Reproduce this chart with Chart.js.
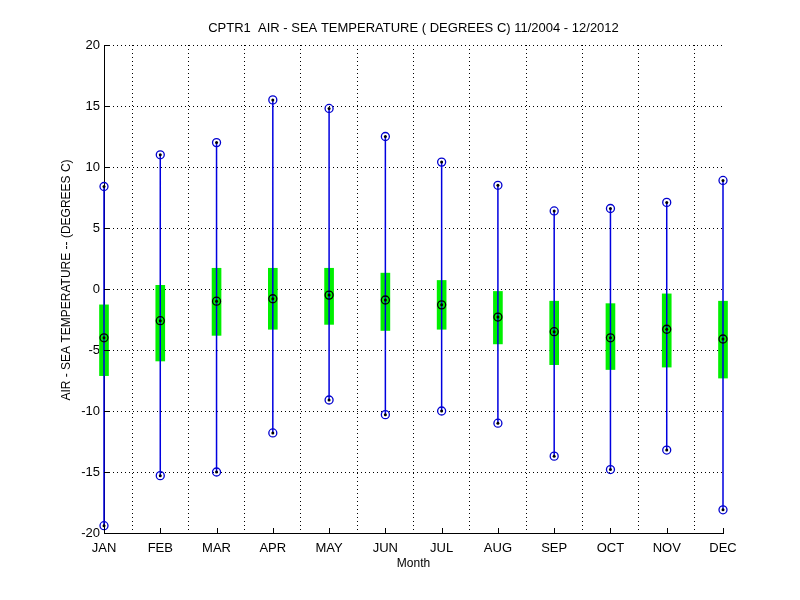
<!DOCTYPE html>
<html>
<head>
<meta charset="utf-8">
<script src="https://cdn.jsdelivr.net/npm/chart.js@4/dist/chart.umd.min.js"></script>
<style>
  body { margin: 0; background: #fff; }
  #wrap { width: 800px; height: 600px; }
</style>
</head>
<body>
<div id="wrap"><canvas id="chartCanvas" width="800" height="600"></canvas></div>
<script>
// monthly stats
const months = ['JAN', 'FEB', 'MAR', 'APR', 'MAY', 'JUN', 'JUL', 'AUG', 'SEP', 'OCT', 'NOV', 'DEC'];
const maxVals = [8.4, 11.0, 12.0, 15.5, 14.8, 12.5, 10.4, 8.5, 6.4, 6.6, 7.1, 8.9];
const minVals = [-19.4, -15.3, -15.0, -11.8, -9.1, -10.3, -10.0, -11.0, -13.7, -14.8, -13.2, -18.1];
const meanVals = [-4.0, -2.6, -1.0, -0.8, -0.5, -0.9, -1.3, -2.3, -3.5, -4.0, -3.3, -4.1];
const boxLow = [-7.1, -5.9, -3.8, -3.3, -2.9, -3.4, -3.3, -4.5, -6.2, -6.6, -6.4, -7.3];
const boxHigh = [-1.3, 0.3, 1.7, 1.7, 1.7, 1.3, 0.7, -0.2, -1.0, -1.2, -0.4, -1.0];
const yTicks = [-20, -15, -10, -5, 0, 5, 10, 15, 20];
const titleText = 'CPTR1  AIR - SEA TEMPERATURE ( DEGREES C) 11/2004 - 12/2012';
const yTitle = 'AIR - SEA TEMPERATURE -- (DEGREES C)';

const FONT = 'Liberation Sans, Arial, Helvetica, sans-serif';

// whisker segments, broken with nulls between months
const whisker = [];
months.forEach((m, i) => {
    whisker.push({ x: i + 1, y: minVals[i] });
    whisker.push({ x: i + 1, y: maxVals[i] });
    whisker.push({ x: i + 1, y: null });
});
const extremes = [];
months.forEach((m, i) => {
    extremes.push({ x: i + 1, y: maxVals[i] });
    extremes.push({ x: i + 1, y: minVals[i] });
});
const means = meanVals.map((v, i) => ({ x: i + 1, y: v }));
const boxes = months.map((m, i) => ({ x: i + 1, y: [boxLow[i], boxHigh[i]] }));

// small inward tick marks like matlab + titles placed where matlab puts them
const matlabBits = {
    id: 'matlabBits',
    afterDatasetsDraw(chart) {
        const { ctx, chartArea, scales } = chart;
        ctx.save();
        ctx.strokeStyle = '#000';
        ctx.lineWidth = 1;
        ctx.beginPath();
        yTicks.forEach(v => {
            const y = Math.round(scales.y.getPixelForValue(v)) + 0.5;
            ctx.moveTo(chartArea.left, y);
            ctx.lineTo(chartArea.left + 5, y);
        });
        months.forEach((m, i) => {
            const x = Math.round(scales.x.getPixelForValue(i + 1)) + 0.5;
            ctx.moveTo(x, chartArea.bottom);
            ctx.lineTo(x, chartArea.bottom - 5);
        });
        ctx.stroke();
        ctx.fillStyle = '#000';
        ctx.font = '13px ' + FONT;
        ctx.textAlign = 'center';
        ctx.textBaseline = 'middle';
        ctx.fillText(titleText, (chartArea.left + chartArea.right) / 2, 28);
        ctx.translate(67, 280);
        ctx.rotate(-Math.PI / 2);
        ctx.font = '12px ' + FONT;
        ctx.fillText(yTitle, 0, 0);
        ctx.restore();
    }
};

const ctx = document.getElementById('chartCanvas');
new Chart(ctx, {
    type: 'bar',
    data: {
        datasets: [
            {
                type: 'bar',
                data: boxes,
                backgroundColor: '#00f000',
                borderWidth: 0,
                barThickness: 9,
                order: 4,
                clip: false
            },
            {
                type: 'line',
                data: whisker,
                borderColor: '#0000e0',
                borderWidth: 1.5,
                pointRadius: 0,
                spanGaps: false,
                fill: false,
                order: 3,
                clip: false
            },
            {
                type: 'scatter',
                data: extremes,
                pointStyle: 'circle',
                pointRadius: 4,
                borderColor: '#0000d0',
                backgroundColor: 'rgba(0,0,0,0)',
                borderWidth: 1.3,
                order: 2,
                clip: false
            },
            {
                type: 'scatter',
                data: means,
                pointStyle: 'circle',
                pointRadius: 4,
                borderColor: '#000',
                backgroundColor: 'rgba(0,0,0,0)',
                borderWidth: 1.3,
                order: 1,
                clip: false
            },
            {
                type: 'scatter',
                data: extremes.concat(means),
                pointStyle: 'circle',
                pointRadius: 1.5,
                borderWidth: 0,
                backgroundColor: '#000',
                order: 0,
                clip: false
            }
        ]
    },
    options: {
        responsive: false,
        animation: false,
        layout: { padding: { left: 0, right: 77, top: 45, bottom: 0 } },
        plugins: {
            legend: { display: false },
            tooltip: { enabled: false },
            title: { display: false }
        },
        scales: {
            x: {
                type: 'linear',
                min: 1,
                max: 12,
                offset: false,
                afterFit: s => { s.height = 67; },
                ticks: {
                    stepSize: 1,
                    color: '#000',
                    padding: 8,
                    maxRotation: 0,
                    font: { family: FONT, size: 13 },
                    callback: v => months[v - 1]
                },
                grid: { color: '#000', lineWidth: 1, drawTicks: false, z: -1 },
                border: { display: true, color: '#000', width: 1, dash: [1, 3] },
                title: {
                    display: true,
                    text: 'Month',
                    color: '#000',
                    font: { family: FONT, size: 12 },
                    padding: { top: 0, bottom: 29 }
                }
            },
            y: {
                min: -20,
                max: 20,
                afterFit: s => { s.width = 104; },
                afterBuildTicks: s => { s.ticks = yTicks.map(v => ({ value: v })); },
                ticks: {
                    color: '#000',
                    padding: 4,
                    font: { family: FONT, size: 13 }
                },
                grid: { color: '#000', lineWidth: 1, drawTicks: false, z: -1 },
                border: { display: true, color: '#000', width: 1, dash: [1, 3] }
            }
        }
    },
    plugins: [matlabBits]
});
</script>
</body>
</html>
